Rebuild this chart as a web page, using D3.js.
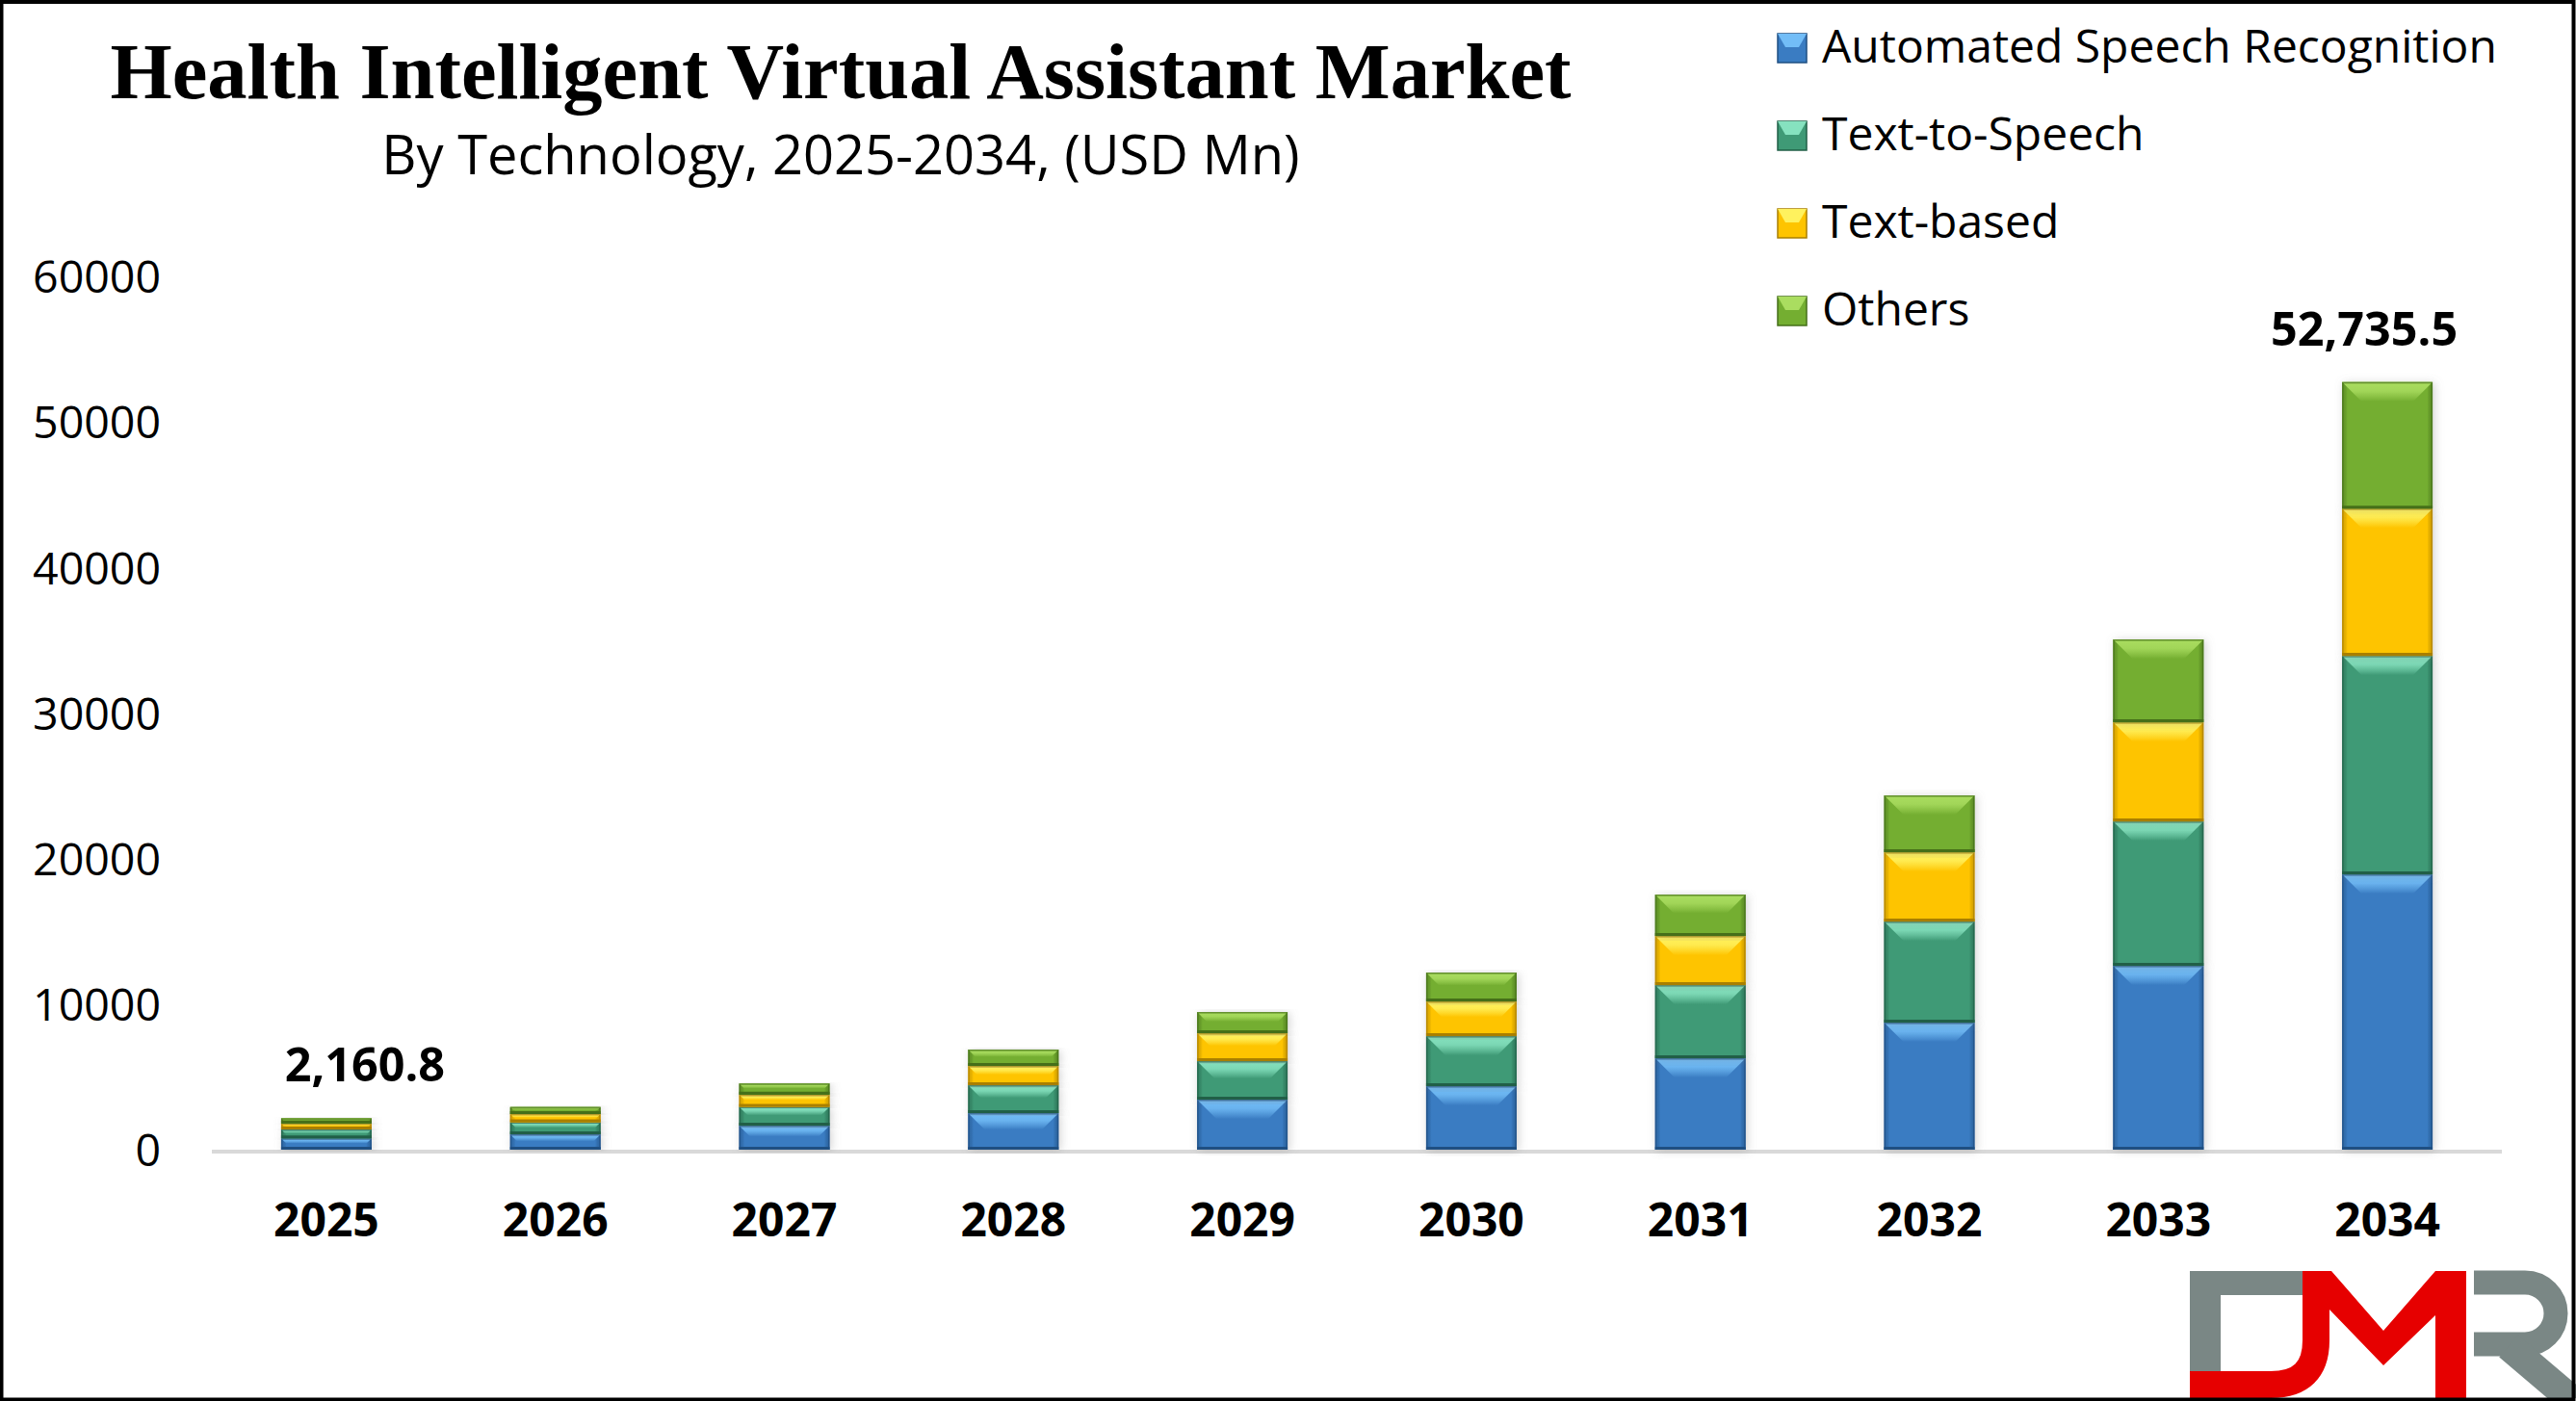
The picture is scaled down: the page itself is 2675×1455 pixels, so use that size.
<!DOCTYPE html>
<html>
<head>
<meta charset="utf-8">
<script src="https://cdn.jsdelivr.net/npm/d3@7"></script>
<style>
  html, body { margin: 0; padding: 0; background: #fff; overflow: hidden; }
  text { font-family: 'Open Sans', 'Noto Sans', sans-serif; }
</style>
</head>
<body>
<svg id="chart" width="2675" height="1455"></svg>
<script>
'use strict';

// the data
var years = ['2025', '2026', '2027', '2028', '2029', '2030', '2031', '2032', '2033', '2034'];
var seriesNames = ['Automated Speech Recognition', 'Text-to-Speech', 'Text-based', 'Others'];
var asr       = [780, 1060, 1650, 2513, 3439, 4365, 6283, 8730, 12632, 18915];
var tts       = [610, 830, 1300, 1918, 2646, 3439, 5026, 6945, 9921, 15014];
var textBased = [410, 560, 830, 1323, 1918, 2381, 3373, 4762, 6812, 10119];
var others    = [360.8, 480, 770, 1124, 1455, 1984, 2844, 3902, 5688, 8687.5];
var yTicks = [0, 10000, 20000, 30000, 40000, 50000, 60000];
var labelledYears = ['2025', '2034'];

// colours: base, light (bevel top), dark (edge)
var palette = [
  {base: '#3a7cc2', light: '#72bdf7', dark: '#1f4f82'},
  {base: '#3f9a76', light: '#86e2bf', dark: '#215f47'},
  {base: '#fec400', light: '#fff25e', dark: '#a97f00'},
  {base: '#74ae31', light: '#aadd60', dark: '#456f19'}
];

var W = 2675, H = 1455;
var svg = d3.select('#chart');

// one row per year, built from the arrays
var rows = years.map(function(y, i) {
  return {year: y, s0: asr[i], s1: tts[i], s2: textBased[i], s3: others[i]};
});
var keys = ['s0', 's1', 's2', 's3'];
var stacked = d3.stack().keys(keys)(rows);

var x = d3.scaleBand().domain(years).range([220, 2598])
  .paddingInner(0.605).paddingOuter(0.3025);
var y = d3.scaleLinear().domain([0, 60000]).range([1194, 287]);

// defs: gradients + shadow
var defs = svg.append('defs');
palette.forEach(function(c, i) {
  var g = defs.append('linearGradient').attr('id', 'top' + i)
    .attr('x1', 0).attr('y1', 0).attr('x2', 0).attr('y2', 1);
  g.append('stop').attr('offset', '0%').attr('stop-color', c.light);
  g.append('stop').attr('offset', '45%').attr('stop-color', c.light).attr('stop-opacity', 0.85);
  g.append('stop').attr('offset', '100%').attr('stop-color', c.base);
  var b = defs.append('linearGradient').attr('id', 'body' + i)
    .attr('x1', 0).attr('y1', 0).attr('x2', 1).attr('y2', 0);
  b.append('stop').attr('offset', '0%').attr('stop-color', c.dark).attr('stop-opacity', 0.35);
  b.append('stop').attr('offset', '6%').attr('stop-color', c.base);
  b.append('stop').attr('offset', '94%').attr('stop-color', c.base);
  b.append('stop').attr('offset', '100%').attr('stop-color', c.dark).attr('stop-opacity', 0.45);
});
var f = defs.append('filter').attr('id', 'shadow')
  .attr('x', '-30%').attr('y', '-10%').attr('width', '160%').attr('height', '120%');
f.append('feDropShadow').attr('dx', 2).attr('dy', 1).attr('stdDeviation', 5)
  .attr('flood-color', '#808080').attr('flood-opacity', 0.35);

// white background
svg.append('rect').attr('x', 0).attr('y', 0).attr('width', W).attr('height', H).attr('fill', '#fff');

// titles
svg.append('text').attr('x', 873).attr('y', 102).attr('text-anchor', 'middle')
  .style('font-family', "'Liberation Serif', 'Times New Roman', serif")
  .style('font-weight', 'bold').style('font-size', '82.5px').attr('fill', '#000')
  .text('Health Intelligent Virtual Assistant Market');
svg.append('text').attr('x', 873).attr('y', 181).attr('text-anchor', 'middle')
  .style('font-size', '56px').attr('fill', '#000')
  .text('By Technology, 2025-2034, (USD Mn)');

// y axis labels (no line)
var yAxis = svg.append('g').attr('transform', 'translate(167,0)')
  .call(d3.axisLeft(y).tickValues(yTicks).tickSize(0).tickPadding(0).tickFormat(d3.format('d')));
yAxis.select('.domain').remove();
yAxis.selectAll('text').style('font-family', "'Open Sans', sans-serif")
  .style('font-size', '46.5px').attr('fill', '#000').attr('dy', '0.36em');

// baseline
svg.append('line').attr('x1', 220).attr('x2', 2598)
  .attr('y1', y(0) + 2).attr('y2', y(0) + 2)
  .attr('stroke', '#d9d9d9').attr('stroke-width', 4);

// x axis labels
var xAxis = svg.append('g').attr('transform', 'translate(0,1250)')
  .call(d3.axisBottom(x).tickSize(0).tickPadding(0));
xAxis.select('.domain').remove();
xAxis.selectAll('text').style('font-family', "'Open Sans', sans-serif")
  .style('font-size', '48px').style('font-weight', 'bold').attr('fill', '#000').attr('dy', '0.71em');

// bars
var layers = svg.append('g').attr('class', 'bars');
var segGroups = layers.selectAll('g.layer').data(stacked).enter().append('g')
  .attr('class', 'layer');

var segs = segGroups.selectAll('g.seg').data(function(layer, i) {
  return layer.map(function(d) { return {i: i, year: d.data.year, y0: d[0], y1: d[1]}; });
}).enter().append('g').attr('class', 'seg');

// shadow body
segs.append('rect')
  .attr('x', function(d) { return x(d.year); })
  .attr('width', x.bandwidth())
  .attr('y', function(d) { return y(d.y1); })
  .attr('height', function(d) { return y(d.y0) - y(d.y1); })
  .attr('fill', function(d) { return palette[d.i].base; })
  .attr('filter', 'url(#shadow)');

segs.append('rect')
  .attr('x', function(d) { return x(d.year); })
  .attr('width', x.bandwidth())
  .attr('y', function(d) { return y(d.y1); })
  .attr('height', function(d) { return y(d.y0) - y(d.y1); })
  .attr('fill', function(d) { return 'url(#body' + d.i + ')'; });

// bevel top trapezoid
segs.append('path')
  .attr('d', function(d) {
    var x0 = x(d.year), x1 = x0 + x.bandwidth();
    var t = y(d.y1), h = y(d.y0) - y(d.y1);
    var b = Math.min(20, h * 0.45);
    return 'M' + x0 + ',' + t + 'L' + x1 + ',' + t + 'L' + (x1 - b) + ',' + (t + b) +
      'L' + (x0 + b) + ',' + (t + b) + 'Z';
  })
  .attr('fill', function(d) { return 'url(#top' + d.i + ')'; });

// dark bottom edge + outline
segs.append('rect')
  .attr('x', function(d) { return x(d.year) + 0.75; })
  .attr('width', x.bandwidth() - 1.5)
  .attr('y', function(d) { return y(d.y1) + 0.75; })
  .attr('height', function(d) { return Math.max(0, y(d.y0) - y(d.y1) - 1.5); })
  .attr('fill', 'none')
  .attr('stroke', function(d) { return palette[d.i].dark; })
  .attr('stroke-opacity', 0.7)
  .attr('stroke-width', 1.5);
segs.append('line')
  .attr('x1', function(d) { return x(d.year); })
  .attr('x2', function(d) { return x(d.year) + x.bandwidth(); })
  .attr('y1', function(d) { return y(d.y0) - 1.5; })
  .attr('y2', function(d) { return y(d.y0) - 1.5; })
  .attr('stroke', function(d) { return palette[d.i].dark; })
  .attr('stroke-width', 3);

// total labels
var labelDx = {'2025': 40, '2034': -24};
svg.append('g').selectAll('text')
  .data(rows.filter(function(r) { return labelledYears.indexOf(r.year) >= 0; }))
  .enter().append('text')
  .attr('x', function(d) { return x(d.year) + x.bandwidth() / 2 + labelDx[d.year]; })
  .attr('y', function(d) { return y(d.s0 + d.s1 + d.s2 + d.s3) - 38; })
  .attr('text-anchor', 'middle')
  .style('font-size', '48.5px').style('font-weight', 'bold').attr('fill', '#000')
  .text(function(d) { return d3.format(',.1f')(d.s0 + d.s1 + d.s2 + d.s3); });

// legend
var legend = svg.append('g').attr('class', 'legend');
var items = legend.selectAll('g').data(seriesNames).enter().append('g')
  .attr('transform', function(d, i) { return 'translate(1846,' + (65 + i * 91) + ')'; });
items.append('rect').attr('x', 0).attr('y', -30).attr('width', 30).attr('height', 30)
  .attr('fill', function(d, i) { return palette[i].base; })
  .attr('stroke', function(d, i) { return palette[i].dark; }).attr('stroke-width', 1.5);
items.append('path').attr('d', 'M0,-30L30,-30L22,-16L8,-16Z')
  .attr('fill', function(d, i) { return palette[i].light; });
items.append('text').attr('x', 46).attr('y', 0)
  .style('font-size', '48px').attr('fill', '#000')
  .text(function(d) { return d; });

// DMR logo
var logo = svg.append('g').attr('class', 'logo');
logo.append('rect').attr('x', 2274).attr('y', 1320).attr('width', 32).attr('height', 112).attr('fill', '#7a8785');
logo.append('rect').attr('x', 2274).attr('y', 1320).attr('width', 120).attr('height', 25).attr('fill', '#7a8785');
logo.append('path')
  .attr('d', 'M2405,1320L2405,1392Q2405,1438 2358,1438L2274,1438')
  .attr('fill', 'none').attr('stroke', '#e60000').attr('stroke-width', 28);
logo.append('path')
  .attr('d', 'M2391,1320L2421,1320L2475,1382L2529,1320L2561,1320L2561,1455L2529,1455L2529,1366L2475,1418L2419,1360Z')
  .attr('fill', '#e60000');
logo.append('path')
  .attr('d', 'M2569,1332L2622,1332A32,32 0 0 1 2622,1396L2569,1396')
  .attr('fill', 'none').attr('stroke', '#7a8785').attr('stroke-width', 25);
logo.append('path')
  .attr('d', 'M2605,1398L2672,1455')
  .attr('fill', 'none').attr('stroke', '#7a8785').attr('stroke-width', 30);

// frame
svg.append('rect').attr('x', 1.5).attr('y', 2).attr('width', W - 4).attr('height', H - 3.5)
  .attr('fill', 'none').attr('stroke', '#000').attr('stroke-width', 4);
</script>
</body>
</html>
